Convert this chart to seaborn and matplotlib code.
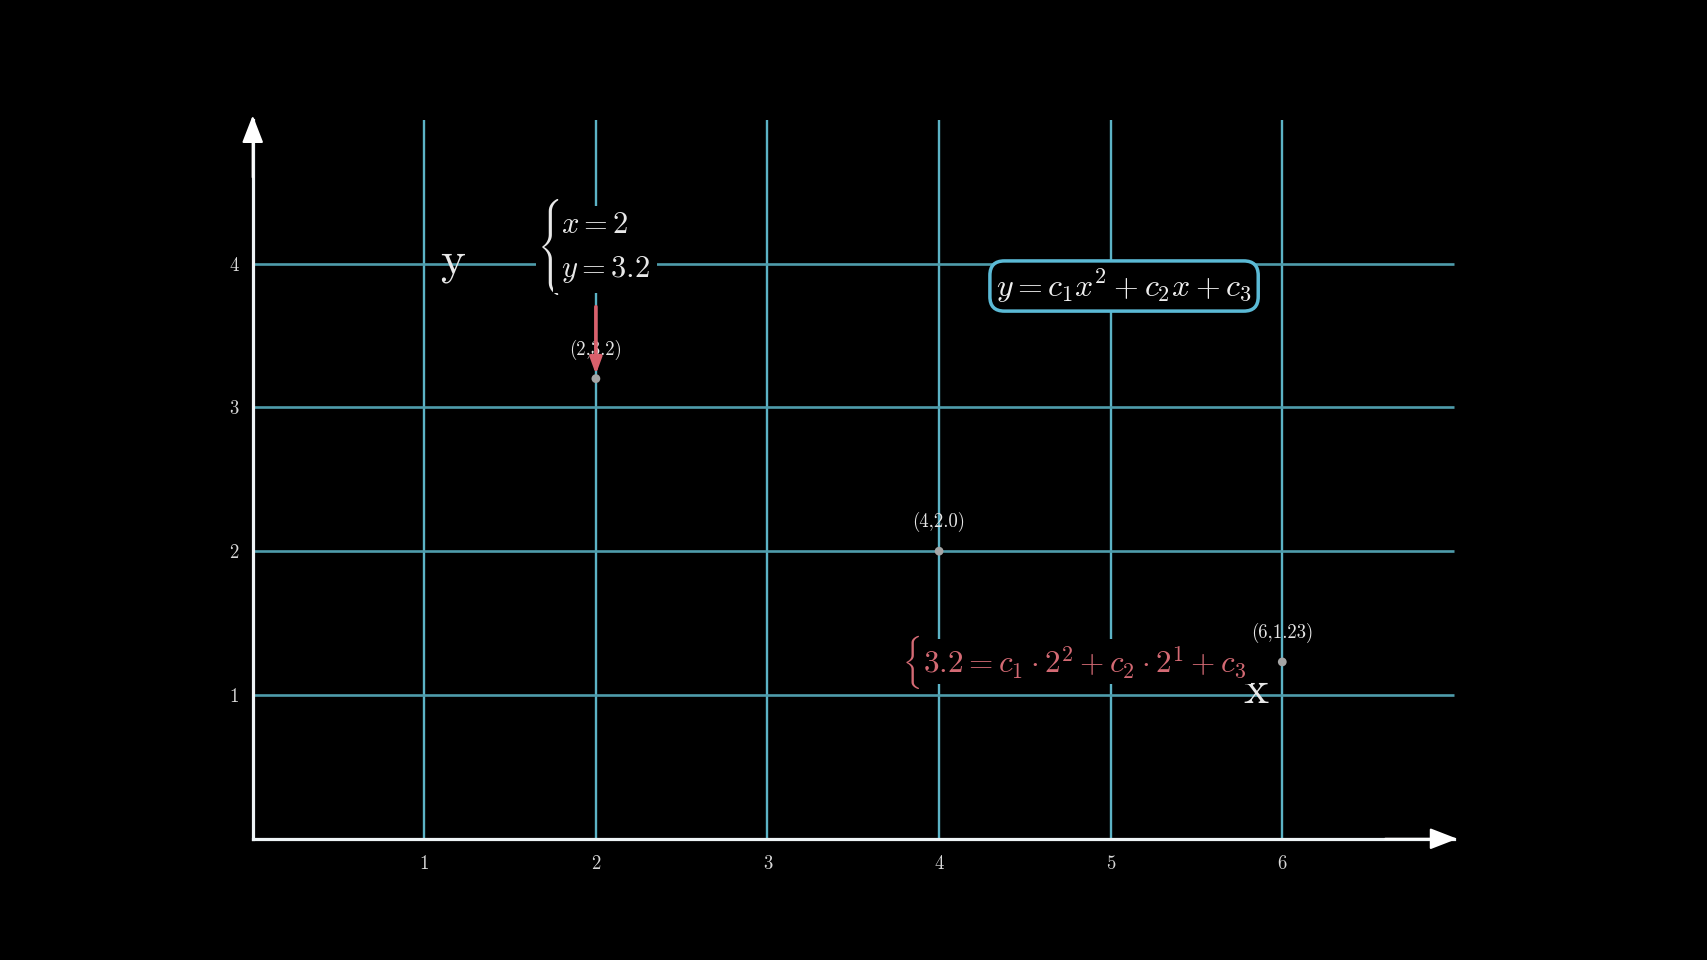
import matplotlib
matplotlib.use("Agg")
import matplotlib.pyplot as plt
import seaborn as sns
import pandas as pd

# ---- data ----
grid_x = [1, 2, 3, 4, 5, 6]
grid_y = [1, 2, 3, 4]
x_tick_labels = ["1", "2", "3", "4", "5", "6"]
y_tick_labels = ["1", "2", "3", "4"]
x_max = 7
y_max = 5
point_x = [2, 4, 6]
point_y = [3.2, 2.0, 1.23]
point_labels = ["(2,3.2)", "(4,2.0)", "(6,1.23)"]
arrow_start_y = 3.7
model_eq = r"$y = c_1x^2 + c_2x + c_3$"
system_lines = [r"$x = 2$", r"$y = 3.2$"]
sub_eq = r"$3.2 = c_1 \cdot 2^2 + c_2 \cdot 2^1 + c_3$"
brace_bigg = "("   # cmex10: Bigg left brace
brace_big = "n"    # cmex10: Big left brace
axis_label_x = "x"
axis_label_y = "y"

# ---- style ----
sns.set_theme(style="dark", rc={"axes.facecolor": "black", "figure.facecolor": "black"})
plt.rcParams.update({
    "font.family": "serif",
    "font.serif": ["cmr10", "DejaVu Serif"],
    "mathtext.fontset": "cm",
    "axes.formatter.use_mathtext": True,
})

fig = plt.figure(figsize=(17.08, 9.6), dpi=100)
ax = fig.add_axes([0, 0, 1, 1])
ax.set_facecolor("black")
ax.grid(False)

# grid lines
ax.vlines(grid_x, 0, y_max, colors="#5cb3c6", lw=1.7, zorder=1)
ax.hlines(grid_y, 0, x_max, colors="#4e9cab", lw=1.9, zorder=1)

# points
df = pd.DataFrame({"x": point_x, "y": point_y, "label": point_labels})
sns.scatterplot(data=df, x="x", y="y", ax=ax, color="#a5a5a5", s=40,
                edgecolor="none", zorder=5)
ax.set_xlabel("")
ax.set_ylabel("")

for px, py, lab in zip(point_x, point_y, point_labels):
    ax.annotate(lab, (px, py), xytext=(0, 21), textcoords="offset points",
                ha="center", va="center", fontsize=13.5, color="#e6e6e6", zorder=6)

# spines as axes
for s in ["top", "right"]:
    ax.spines[s].set_visible(False)
ax.spines["left"].set_position(("data", 0))
ax.spines["bottom"].set_position(("data", 0))
ax.spines["left"].set_bounds(0, y_max)
ax.spines["bottom"].set_bounds(0, x_max)
for s in ["left", "bottom"]:
    ax.spines[s].set_color("#eef4f6")
    ax.spines[s].set_linewidth(2.3)
    ax.spines[s].set_zorder(3)

ax.set_xticks(grid_x, x_tick_labels)
ax.set_yticks(grid_y, y_tick_labels)
ax.tick_params(colors="#d0d0d0", labelcolor="#d8d8d8", labelsize=13.5,
               length=4, width=1.5, direction="inout")
ax.tick_params(axis="x", pad=10)
ax.tick_params(axis="y", pad=8)

# arrow heads
head = dict(arrowstyle="-|>,head_length=0.85,head_width=0.33", mutation_scale=20,
            color="white", lw=1.5, shrinkA=0, shrinkB=0)
ax.annotate("", xy=(x_max + 0.02, 0), xytext=(x_max - 0.4, 0), arrowprops=head, zorder=4)
ax.annotate("", xy=(0, y_max + 0.03), xytext=(0, y_max - 0.4), arrowprops=head, zorder=4)

# red arrow toward first point
ax.annotate("", xy=(point_x[0], point_y[0] + 0.03), xytext=(point_x[0], arrow_start_y),
            arrowprops=dict(arrowstyle="-|>,head_length=0.6,head_width=0.22",
                            mutation_scale=16, color="#d9606c", lw=2.6,
                            shrinkA=0, shrinkB=0), zorder=7)

# axis labels
ax.text(1.167, 3.93, axis_label_y, fontsize=34, color="#e8e8e8",
        ha="center", va="baseline", zorder=4)
ax.text(5.847, 0.944, axis_label_x, fontsize=34, color="#e8e8e8",
        ha="center", va="baseline", zorder=4)

# boxed model equation
ax.text(5.078, 3.844, model_eq, fontsize=23, color="#eeeeee", ha="center", va="center",
        bbox=dict(boxstyle="round,pad=0.2,rounding_size=0.45", fc="black",
                  ec="#5bbad6", lw=2.5), zorder=8)

# system of equations with brace
ax.text(1.66, 4.442, brace_bigg, fontfamily="cmex10", fontsize=22, color="#e8e8e8",
        ha="left", va="baseline",
        bbox=dict(boxstyle="square,pad=0.05", fc="black", ec="none"), zorder=8)
ax.text(1.794, 3.907, "\n".join(system_lines), fontsize=22, color="#e8e8e8",
        ha="left", va="baseline", linespacing=1.65,
        bbox=dict(boxstyle="square,pad=0.25", fc="black", ec="none"), zorder=8)

# substituted equation (red) with brace
ax.text(3.790, 1.40, brace_big, fontfamily="cmex10", fontsize=21, color="#d46a74",
        ha="left", va="baseline", zorder=8)
ax.text(3.905, 1.16, sub_eq, fontsize=22.5, color="#d46a74", ha="left", va="baseline",
        bbox=dict(boxstyle="square,pad=0.15", fc="black", ec="none"), zorder=7)

ax.set_xlim(-1.4727, 8.481)
ax.set_ylim(-0.843, 5.833)

fig.savefig("out.png", dpi=100, facecolor="black")
